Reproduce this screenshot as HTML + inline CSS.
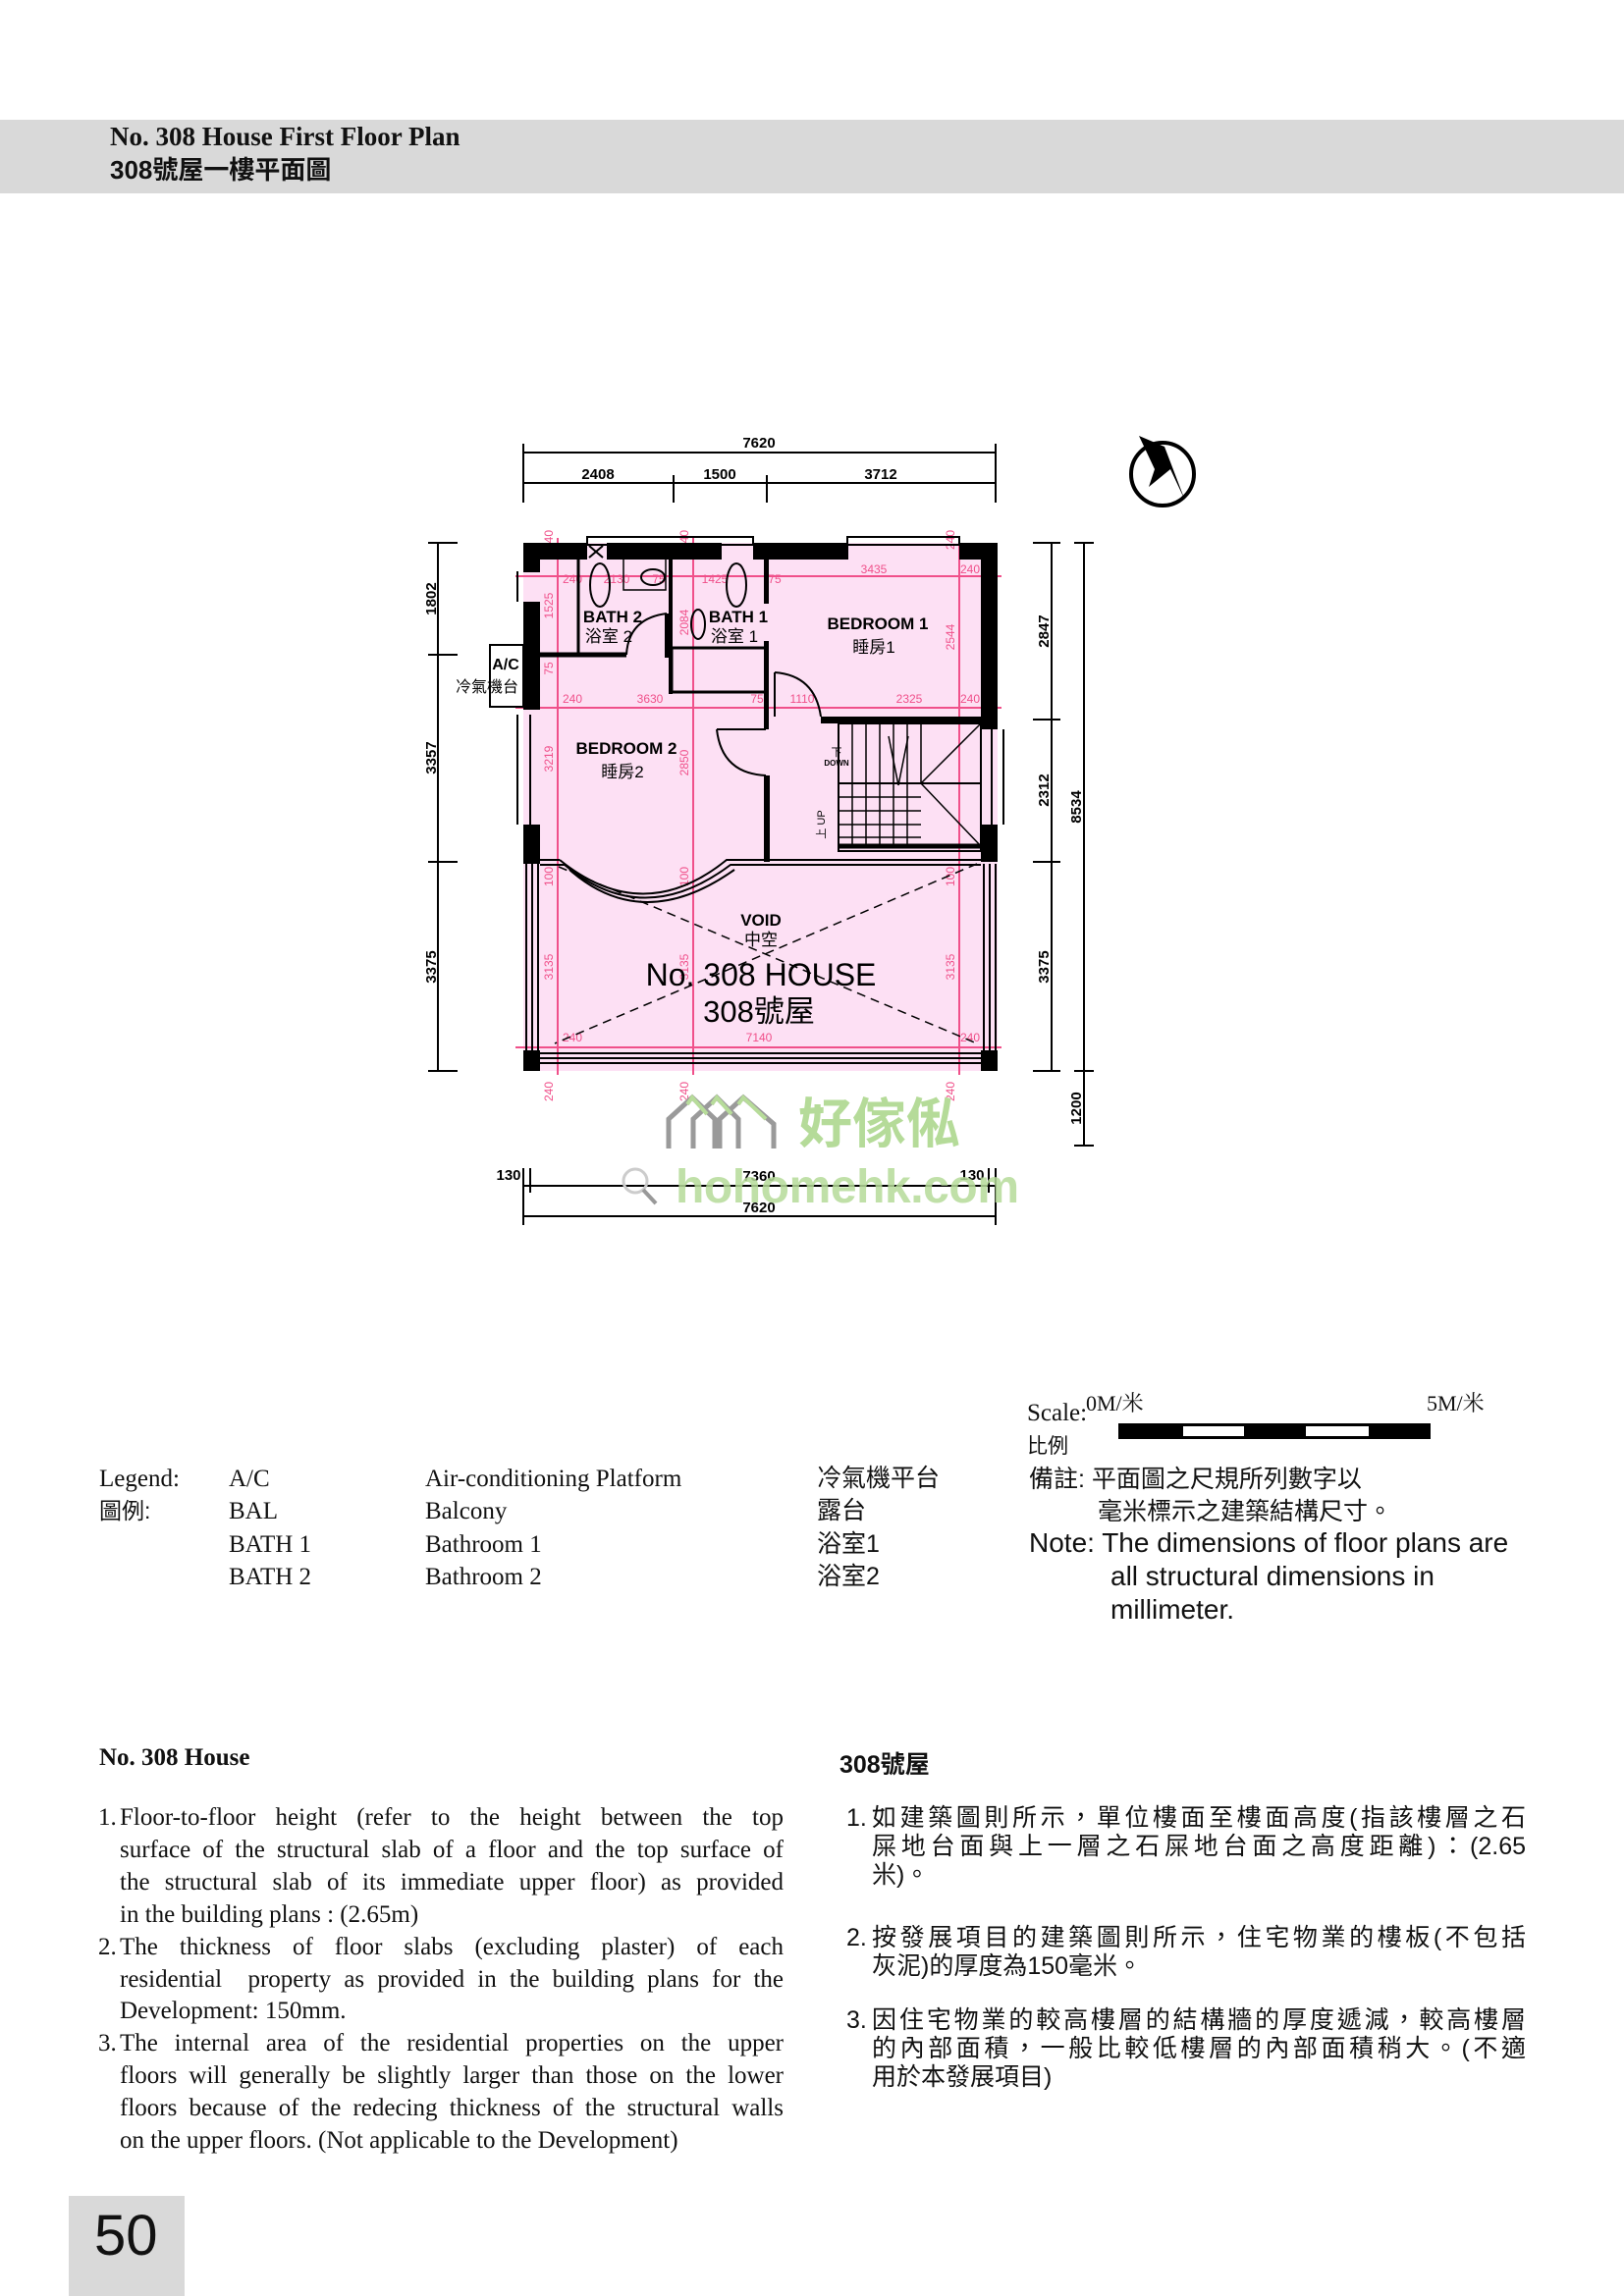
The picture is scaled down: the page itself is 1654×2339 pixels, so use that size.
<!DOCTYPE html>
<html><head><meta charset="utf-8">
<style>
html,body{margin:0;padding:0;background:#fff}
body{width:1654px;height:2339px;position:relative;overflow:hidden;font-family:"Liberation Serif","Noto Serif CJK SC",serif;color:#111}
.a{position:absolute;white-space:nowrap}
.s{font-family:"Liberation Serif","Noto Serif CJK SC",serif}
.cj{font-family:"Liberation Sans","Noto Sans CJK TC",sans-serif}
.ln{position:absolute;left:0;height:33px;line-height:33px;font-size:25px;white-space:nowrap;transform-origin:0 50%;}
.j{text-align:justify;text-align-last:justify;white-space:normal;overflow:hidden}
</style></head><body>
<div class="a" style="left:0;top:122px;width:1654px;height:75px;background:#d9d9d9"></div>
<div class="a" style="left:112px;top:124px;font:bold 27px 'Liberation Serif',serif">No. 308 House First Floor Plan</div>
<div class="a cj" style="left:112px;top:153px;font-size:26px;font-weight:bold">308號屋一樓平面圖</div>

<svg class="a" style="left:0;top:0" width="1654" height="1400" viewBox="0 0 1654 1400" font-family="Liberation Sans, Noto Sans CJK TC, sans-serif">
<rect x="533" y="553" width="483" height="538" fill="#fde0f4"/>
<g stroke="#000" stroke-width="2" fill="none">
<line x1="533" y1="461" x2="1014" y2="461"/>
<line x1="533" y1="492" x2="1014" y2="492"/>
<line x1="533" y1="452" x2="533" y2="512"/><line x1="1014" y1="452" x2="1014" y2="512"/>
<line x1="686" y1="484" x2="686" y2="512"/><line x1="781" y1="484" x2="781" y2="512"/>
<line x1="446" y1="553" x2="446" y2="1091"/>
<line x1="436" y1="553" x2="466" y2="553"/><line x1="436" y1="667" x2="466" y2="667"/><line x1="436" y1="878" x2="466" y2="878"/><line x1="436" y1="1091" x2="466" y2="1091"/>
<line x1="1071" y1="553" x2="1071" y2="1091"/>
<line x1="1104" y1="553" x2="1104" y2="1167"/>
<line x1="1052" y1="553" x2="1080" y2="553"/><line x1="1052" y1="733" x2="1080" y2="733"/><line x1="1052" y1="878" x2="1080" y2="878"/><line x1="1052" y1="1091" x2="1080" y2="1091"/>
<line x1="1094" y1="553" x2="1114" y2="553"/><line x1="1094" y1="1091" x2="1114" y2="1091"/><line x1="1094" y1="1167" x2="1114" y2="1167"/>
<line x1="533" y1="1208" x2="1014" y2="1208"/>
<line x1="533" y1="1239" x2="1014" y2="1239"/>
<line x1="533" y1="1190" x2="533" y2="1248"/><line x1="1014" y1="1190" x2="1014" y2="1248"/>
<line x1="540" y1="1190" x2="540" y2="1215"/><line x1="1007" y1="1190" x2="1007" y2="1215"/>
</g>
<g fill="#000" font-size="15" font-weight="bold" text-anchor="middle">
<text x="773" y="456">7620</text>
<text x="609" y="488">2408</text><text x="733" y="488">1500</text><text x="897" y="488">3712</text>
<text transform="translate(444,610) rotate(-90)">1802</text>
<text transform="translate(444,772) rotate(-90)">3357</text>
<text transform="translate(444,985) rotate(-90)">3375</text>
<text transform="translate(1068,643) rotate(-90)">2847</text>
<text transform="translate(1068,805) rotate(-90)">2312</text>
<text transform="translate(1068,985) rotate(-90)">3375</text>
<text transform="translate(1101,822) rotate(-90)">8534</text>
<text transform="translate(1101,1129) rotate(-90)">1200</text>
<text x="773" y="1203">7360</text><text x="773" y="1235">7620</text>
<text x="518" y="1202">130</text><text x="990" y="1202">130</text>
</g>
<g stroke="#f0508a" stroke-width="2">
<line x1="525" y1="587" x2="1020" y2="587"/>
<line x1="525" y1="721" x2="1020" y2="721"/>
<line x1="525" y1="1067" x2="1020" y2="1067"/>
<line x1="568" y1="548" x2="568" y2="1095"/>
<line x1="706" y1="548" x2="706" y2="1095"/>
<line x1="977" y1="548" x2="977" y2="1095"/>
</g>
<g fill="#f0508a" font-size="12" text-anchor="middle">
<text x="583" y="594">240</text><text x="628" y="594">2130</text><text x="671" y="594">75</text><text x="728" y="594">1425</text><text x="789" y="594">75</text><text x="890" y="584">3435</text><text x="988" y="584">240</text>
<text x="583" y="716">240</text><text x="662" y="716">3630</text><text x="771" y="716">75</text><text x="817" y="716">1110</text><text x="926" y="716">2325</text><text x="988" y="716">240</text>
<text x="773" y="1061">7140</text><text x="583" y="1061">240</text><text x="988" y="1061">240</text>
<text transform="translate(563,550) rotate(-90)">240</text><text transform="translate(701,550) rotate(-90)">240</text><text transform="translate(972,550) rotate(-90)">240</text>
<text transform="translate(563,1112) rotate(-90)">240</text><text transform="translate(701,1112) rotate(-90)">240</text><text transform="translate(972,1112) rotate(-90)">240</text>
<text transform="translate(563,617) rotate(-90)">1525</text><text transform="translate(563,681) rotate(-90)">75</text><text transform="translate(563,773) rotate(-90)">3219</text>
<text transform="translate(701,777) rotate(-90)">2850</text><text transform="translate(701,634) rotate(-90)">2084</text><text transform="translate(972,649) rotate(-90)">2544</text>
<text transform="translate(563,985) rotate(-90)">3135</text><text transform="translate(701,985) rotate(-90)">3135</text><text transform="translate(972,985) rotate(-90)">3135</text>
<text transform="translate(563,893) rotate(-90)">100</text><text transform="translate(701,893) rotate(-90)">100</text><text transform="translate(972,893) rotate(-90)">100</text>
</g>
<g fill="#000">
<rect x="533" y="553" width="65" height="17"/><rect x="618" y="553" width="117" height="17"/><rect x="767" y="553" width="97" height="17"/><rect x="977" y="553" width="39" height="17"/>
<rect x="533" y="553" width="17" height="30"/><rect x="533" y="613" width="17" height="110"/><rect x="533" y="840" width="17" height="40"/><rect x="533" y="1070" width="17" height="21"/>
<rect x="999" y="553" width="17" height="190"/><rect x="999" y="840" width="17" height="38"/><rect x="999" y="1070" width="17" height="21"/>
<rect x="836" y="730" width="163" height="7"/>
<rect x="778" y="790" width="6" height="88"/>
<rect x="778" y="653" width="5" height="90"/><rect x="778" y="568" width="5" height="47"/>
</g>
<g stroke="#000" stroke-width="2" fill="none">
<rect x="598" y="547" width="169" height="8"/><rect x="863" y="547" width="114" height="8"/>
<line x1="600" y1="556" x2="614" y2="568"/><line x1="614" y1="556" x2="600" y2="568"/>
<line x1="527" y1="582" x2="527" y2="613"/><line x1="527" y1="728" x2="527" y2="840"/><line x1="540" y1="728" x2="540" y2="840"/>
<line x1="1022" y1="743" x2="1022" y2="840"/><line x1="1010" y1="743" x2="1010" y2="840"/>
<line x1="536" y1="880" x2="536" y2="1090"/><line x1="542" y1="880" x2="542" y2="1090"/><line x1="548" y1="880" x2="548" y2="1090"/>
<line x1="1002" y1="880" x2="1002" y2="1090"/><line x1="1008" y1="880" x2="1008" y2="1090"/><line x1="1014" y1="880" x2="1014" y2="1090"/>
<line x1="550" y1="1073" x2="999" y2="1073"/><line x1="550" y1="1078" x2="999" y2="1078"/><line x1="550" y1="1083" x2="999" y2="1083"/>
<line x1="550" y1="876" x2="570" y2="876"/><line x1="550" y1="881" x2="575" y2="881"/>
<path d="M570 876 Q655 945 740 876 L999 876"/><path d="M575 881 Q655 948 744 881 L999 881"/><path d="M580 886 Q655 952 748 886"/>
<line x1="589" y1="568" x2="589" y2="667" stroke-width="3"/>
<line x1="550" y1="667" x2="638" y2="667" stroke-width="5"/>
<line x1="679" y1="625" x2="679" y2="670" stroke-width="4"/>
<path d="M638 667 Q640 630 679 625"/>
<line x1="683" y1="553" x2="683" y2="707" stroke-width="4"/>
<rect x="684" y="660" width="96" height="45" stroke-width="3"/>
<rect x="635" y="568" width="43" height="33" stroke-width="1.5"/>
<ellipse cx="611" cy="596" rx="10" ry="22"/><ellipse cx="750" cy="596" rx="10" ry="22"/><ellipse cx="665" cy="588" rx="12" ry="8"/><ellipse cx="711" cy="636" rx="7" ry="15"/>
<path d="M730 743 L780 743 M730 743 Q735 788 780 790" stroke-width="2"/>
<path d="M789 685 L789 730 M789 685 Q830 688 836 730"/>
<rect x="854" y="737" width="145" height="130"/>
<line x1="854" y1="798" x2="999" y2="798"/>
<line x1="854" y1="862" x2="999" y2="862" stroke-width="5"/>
<g stroke-width="1.5"><line x1="868" y1="737" x2="868" y2="798"/><line x1="882" y1="737" x2="882" y2="798"/><line x1="896" y1="737" x2="896" y2="798"/><line x1="910" y1="737" x2="910" y2="798"/><line x1="924" y1="737" x2="924" y2="798"/><line x1="938" y1="737" x2="938" y2="798"/>
<line x1="854" y1="812" x2="938" y2="812"/><line x1="854" y1="826" x2="938" y2="826"/><line x1="854" y1="840" x2="938" y2="840"/><line x1="854" y1="853" x2="938" y2="853"/>
<line x1="868" y1="798" x2="868" y2="862"/><line x1="882" y1="798" x2="882" y2="862"/><line x1="896" y1="798" x2="896" y2="862"/><line x1="910" y1="798" x2="910" y2="862"/><line x1="924" y1="798" x2="924" y2="862"/>
<line x1="938" y1="798" x2="999" y2="737"/><line x1="938" y1="798" x2="999" y2="862"/><line x1="905" y1="750" x2="915" y2="800"/><line x1="925" y1="750" x2="915" y2="800"/></g>
<rect x="499" y="657" width="34" height="63"/>
</g>
<g stroke="#000" stroke-width="1.5" stroke-dasharray="9 6" fill="none">
<line x1="569" y1="883" x2="995" y2="1063"/><line x1="995" y1="880" x2="565" y2="1063"/>
</g>
<g fill="#000" text-anchor="middle" font-weight="bold">
<text x="624" y="634" font-size="17">BATH 2</text><text x="620" y="654" font-size="17" font-weight="normal">浴室 2</text>
<text x="752" y="634" font-size="17">BATH 1</text><text x="748" y="654" font-size="17" font-weight="normal">浴室 1</text>
<text x="894" y="641" font-size="17">BEDROOM 1</text><text x="890" y="665" font-size="17" font-weight="normal">睡房1</text>
<text x="638" y="768" font-size="17">BEDROOM 2</text><text x="634" y="792" font-size="17" font-weight="normal">睡房2</text>
<text x="515" y="682" font-size="16">A/C</text><text x="496" y="705" font-size="16" font-weight="normal">冷氣機台</text>
<text x="775" y="943" font-size="17">VOID</text><text x="775" y="963" font-size="17" font-weight="normal">中空</text>
<text x="775" y="1004" font-size="32" font-weight="normal">No. 308 HOUSE</text>
<text x="773" y="1041" font-size="31" font-weight="normal">308號屋</text>
<text x="852" y="770" font-size="11" font-weight="normal">下</text><text x="852" y="780" font-size="8">DOWN</text>
<text transform="translate(840,840) rotate(-90)" font-size="11" font-weight="normal">上 UP</text>
</g>
<circle cx="1184" cy="483" r="32" fill="none" stroke="#000" stroke-width="4"/>
<path d="M1160 444 L1176 478 L1170 496 L1192 478 L1207 510 L1186 455 Z" fill="#000"/>
<g fill="none" stroke="#9a9a9a" stroke-width="5"><path d="M681 1170 V1140 L705 1118 L728 1140 V1170 M706 1170 V1140 L730 1118 L752 1140 V1170 M733 1170 V1140 L757 1118 L788 1145 V1170"/></g>
<g fill="none" stroke="#b7dc9a" stroke-width="4"><path d="M700 1125 L705 1118 L720 1135 M725 1125 L730 1118 L745 1135 M752 1125 L757 1118 L780 1140"/></g>
<text x="813" y="1164" font-size="55" font-weight="bold" fill="#b5db99" font-family="Noto Sans CJK TC, sans-serif">好傢俬</text>
<circle cx="647" cy="1203" r="12" fill="none" stroke="#ccc" stroke-width="3"/><line x1="655" y1="1212" x2="668" y2="1226" stroke="#999" stroke-width="4"/>
<text x="688" y="1225" font-size="48" font-weight="bold" fill="#b5db99" fill-opacity="0.85" textLength="350">hohomehk.com</text>
</svg>

<div class="a s" style="left:1046px;top:1426px;font-size:25px">Scale:</div>
<div class="a s" style="left:1106px;top:1413px;font-size:22px">0M/米</div>
<div class="a s" style="left:1453px;top:1413px;font-size:22px">5M/米</div>
<div class="a cj" style="left:1046px;top:1457px;font-size:21px">比例</div>
<div class="a" style="left:1139px;top:1450px;width:318px;height:16px;background:#000"></div>
<div class="a" style="left:1205px;top:1453px;width:62px;height:10px;background:#fff"></div>
<div class="a" style="left:1330px;top:1453px;width:64px;height:10px;background:#fff"></div>
<div class="a cj" style="left:1048px;top:1487px;font-size:25px">備註: 平面圖之尺規所列數字以</div>
<div class="a cj" style="left:1118px;top:1520px;font-size:25px">毫米標示之建築結構尺寸。</div>
<div class="a cj" style="left:1048px;top:1556px;font-size:28px">Note: The dimensions of floor plans are</div>
<div class="a cj" style="left:1131px;top:1590px;font-size:28px">all structural dimensions in</div>
<div class="a cj" style="left:1131px;top:1624px;font-size:28px">millimeter.</div>

<div class="a s" style="left:101px;top:1490px;font-size:25px;line-height:33px">Legend:<br><span class="cj" style="font-size:23px">圖例:</span></div>
<div class="a s" style="left:233px;top:1490px;font-size:25px;line-height:33.3px">A/C<br>BAL<br>BATH 1<br>BATH 2</div>
<div class="a s" style="left:433px;top:1490px;font-size:25px;line-height:33.3px">Air-conditioning Platform<br>Balcony<br>Bathroom 1<br>Bathroom 2</div>
<div class="a cj" style="left:832px;top:1490px;font-size:25px;line-height:33.3px">冷氣機平台<br>露台<br>浴室1<br>浴室2</div>

<div class="a s" style="left:101px;top:1777px;font-size:25px;font-weight:bold">No. 308 House</div>
<div class="a s" style="left:100px;top:1835px;width:700px;font-size:25px">
<div class="ln" style="top:0">1.</div>
<div class="ln j" style="left:22px;top:0;width:676px">Floor-to-floor height (refer to the height between the top</div>
<div class="ln j" style="left:22px;top:32.9px;width:676px">surface of the structural slab of a floor and the top surface of</div>
<div class="ln j" style="left:22px;top:65.8px;width:676px">the structural slab of its immediate upper floor) as provided</div>
<div class="ln" style="left:22px;top:98.7px">in the building plans : (2.65m)</div>
<div class="ln" style="top:131.6px">2.</div>
<div class="ln j" style="left:22px;top:131.6px;width:676px">The thickness of floor slabs (excluding plaster) of each</div>
<div class="ln j" style="left:22px;top:164.5px;width:676px">residential &nbsp;property as provided in the building plans for the</div>
<div class="ln" style="left:22px;top:197.4px">Development: 150mm.</div>
<div class="ln" style="top:230.3px">3.</div>
<div class="ln j" style="left:22px;top:230.3px;width:676px">The internal area of the residential properties on the upper</div>
<div class="ln j" style="left:22px;top:263.2px;width:676px">floors will generally be slightly larger than those on the lower</div>
<div class="ln j" style="left:22px;top:296.1px;width:676px">floors because of the redecing thickness of the structural walls</div>
<div class="ln" style="left:22px;top:329px">on the upper floors. (Not applicable to the Development)</div>
</div>

<div class="a cj" style="left:855px;top:1778px;font-size:25px;font-weight:bold">308號屋</div>
<div class="a cj" style="left:862px;top:1838px;width:700px;font-size:25px;line-height:29px">
<div class="ln" style="top:0;height:29px;line-height:29px">1.</div>
<div class="ln j" style="left:26px;top:0;width:666px;height:29px;line-height:29px">如建築圖則所示，單位樓面至樓面高度(指該樓層之石</div>
<div class="ln j" style="left:26px;top:29px;width:666px;height:29px;line-height:29px">屎地台面與上一層之石屎地台面之高度距離)：(2.65</div>
<div class="ln" style="left:26px;top:58px;height:29px;line-height:29px">米)。</div>
<div class="ln" style="top:122px;height:29px;line-height:29px">2.</div>
<div class="ln j" style="left:26px;top:122px;width:666px;height:29px;line-height:29px">按發展項目的建築圖則所示，住宅物業的樓板(不包括</div>
<div class="ln" style="left:26px;top:151px;height:29px;line-height:29px">灰泥)的厚度為150毫米。</div>
<div class="ln" style="top:206px;height:29px;line-height:29px">3.</div>
<div class="ln j" style="left:26px;top:206px;width:666px;height:29px;line-height:29px">因住宅物業的較高樓層的結構牆的厚度遞減，較高樓層</div>
<div class="ln j" style="left:26px;top:235px;width:666px;height:29px;line-height:29px">的內部面積，一般比較低樓層的內部面積稍大。(不適</div>
<div class="ln" style="left:26px;top:264px;height:29px;line-height:29px">用於本發展項目)</div>
</div>

<div class="a" style="left:70px;top:2237px;width:118px;height:102px;background:#d9d9d9"></div>
<div class="a cj" style="left:96px;top:2244px;font-size:58px">50</div>
</body></html>
